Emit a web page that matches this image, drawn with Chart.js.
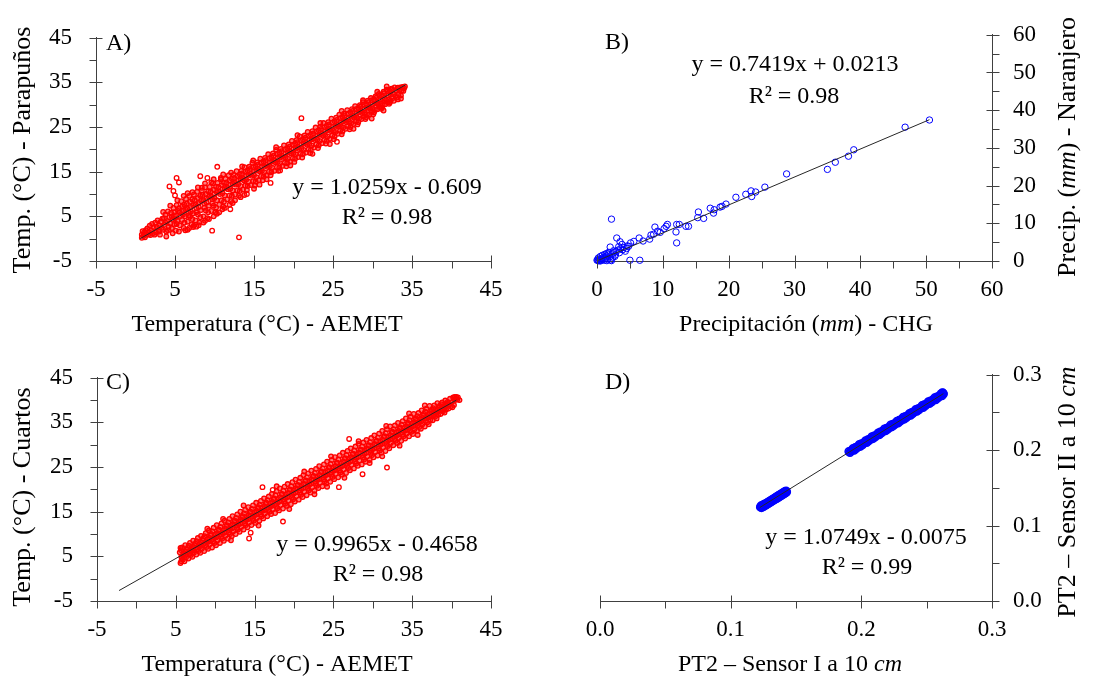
<!DOCTYPE html>
<html>
<head>
<meta charset="utf-8">
<script src="https://cdn.jsdelivr.net/npm/chart.js@4.4.1/dist/chart.umd.min.js"></script>
<style>
  html, body { margin: 0; padding: 0; background: #fff; }
  #wrap { position: relative; width: 1120px; height: 680px; }
  #wrap canvas { position: absolute; }
</style>
</head>
<body>
<div id="wrap">
  <canvas id="panelA" width="560" height="340" style="left:0;top:0"></canvas>
  <canvas id="panelB" width="560" height="340" style="left:560px;top:0"></canvas>
  <canvas id="panelC" width="560" height="340" style="left:0;top:340px"></canvas>
  <canvas id="panelD" width="560" height="340" style="left:560px;top:340px"></canvas>
</div>
<script>
// ---- Tick values -------------------------------------------------------
const tempTicks = [-5, 5, 15, 25, 35, 45];
const tempMinorTicks = [0, 10, 20, 30, 40];
const precipTicks = [0, 10, 20, 30, 40, 50, 60];
const precipMinorTicks = [5, 15, 25, 35, 45, 55];
const sensorTicks = [0, 0.1, 0.2, 0.3];
const sensorMinorTicks = [0.05, 0.15, 0.25];

// ---- Linear fits (slope, intercept, R², x extent) ------------------------
const fitSlopes = [1.0259, 0.7419, 0.9965, 1.0749];
const fitIntercepts = [-0.609, 0.0213, -0.4658, -0.0075];
const fitR2 = [0.98, 0.98, 0.98, 0.99];
const fitRanges = [[0.6, 34.2], [0, 50.5], [-2.2, 40.6], [0.1224, 0.2628]];

// ---- A) hourly temperature, AEMET (x) vs Parapuños (y) -----------------
const tempParapunos = [
  [0.8,0.2],[0.8,0.9],[0.9,1.7],[1.0,0.6],[1.1,1.4],[1.2,0.3],[1.3,1.9],[1.4,1.0],
  [1.5,2.3],[1.6,0.9],[1.7,1.5],[1.8,2.9],[1.9,0.8],[2.0,1.9],[2.1,3.3],[2.2,1.2],[2.3,2.5],[2.4,0.9],
  [2.5,3.6],[2.6,1.4],[2.7,2.6],[2.8,4.1],[2.9,1.9],[3.0,3.0],[3.1,0.9],[3.2,3.8],[3.3,2.4],[3.4,4.5],[3.0,1.6],
  [3.5,2.0],[3.6,4.6],[3.7,3.1],[3.8,5.4],[3.9,1.6],[4.0,3.9],[4.1,6.1],[4.2,2.7],[4.3,4.8],[4.4,3.4],[3.8,3.6],[4.1,1.9],
  [4.5,5.8],[4.6,2.4],[4.7,4.3],[4.8,6.9],[4.9,3.1],[5.0,5.2],[5.1,1.8],[5.2,7.5],[5.3,4.0],[5.4,6.2],[4.6,4.9],[4.9,5.9],[5.2,3.3],[5.0,4.6],
  [5.5,6.8],[5.6,3.0],[5.7,5.1],[5.8,8.4],[5.9,4.2],[6.0,6.3],[6.1,2.4],[6.2,7.6],[6.3,5.0],[6.4,8.9],[5.6,5.9],[5.9,7.2],[6.2,3.6],[6.0,5.4],[6.3,6.6],
  [6.5,7.9],[6.6,3.8],[6.7,6.0],[6.8,9.6],[6.9,4.9],[7.0,7.1],[7.1,3.2],[7.2,8.8],[7.3,5.7],[7.4,9.9],[6.6,6.7],[6.9,8.3],[7.2,4.4],[7.0,6.1],[7.3,7.5],[6.7,5.2],
  [7.5,8.6],[7.6,4.1],[7.7,6.9],[7.8,10.5],[7.9,5.4],[8.0,8.0],[8.1,3.6],[8.2,9.6],[8.3,6.4],[8.4,10.8],[7.6,7.7],[7.9,9.1],[8.2,4.8],[8.0,7.1],[8.3,8.5],[7.7,5.9],
  [8.5,9.8],[8.6,5.0],[8.7,7.9],[8.8,11.5],[8.9,6.3],[9.0,9.0],[9.1,4.6],[9.2,10.6],[9.3,7.4],[9.4,11.6],[8.6,8.6],[8.9,10.0],[9.2,5.9],[9.0,8.1],[9.3,9.4],[8.7,6.9],
  [9.5,10.6],[9.6,6.2],[9.7,8.9],[9.8,12.4],[9.9,7.4],[10.0,10.0],[10.1,5.9],[10.2,11.6],[10.3,8.6],[10.4,12.5],[9.6,9.4],[9.9,11.0],[10.2,7.0],[10.0,9.1],[10.3,10.4],[9.7,7.9],
  [10.5,11.6],[10.6,7.6],[10.7,10.0],[10.8,13.3],[10.9,8.6],[11.0,11.1],[11.1,7.2],[11.2,12.5],[11.3,9.7],[11.4,13.4],[10.6,10.5],[10.9,12.0],[11.2,8.3],[11.0,10.2],[11.3,11.3],
  [11.5,12.6],[11.6,8.8],[11.7,11.1],[11.8,14.2],[11.9,9.7],[12.0,12.1],[12.1,8.4],[12.2,13.4],[12.3,10.8],[12.4,14.3],[11.6,11.5],[11.9,13.0],[12.2,9.6],[12.0,11.2],[12.3,12.3],
  [12.5,13.6],[12.6,9.9],[12.7,12.1],[12.8,15.1],[12.9,10.8],[13.0,13.1],[13.1,9.6],[13.2,14.4],[13.3,11.8],[13.4,15.2],[12.6,12.5],[12.9,14.0],[13.2,10.7],[13.0,12.2],[13.3,13.3],
  [13.5,14.6],[13.6,11.0],[13.7,13.1],[13.8,16.0],[13.9,11.9],[14.0,14.1],[14.1,10.9],[14.2,15.3],[14.3,12.8],[14.4,16.1],[13.6,13.5],[13.9,15.0],[14.2,11.8],[14.0,13.2],[14.3,14.3],
  [14.5,15.6],[14.6,12.0],[14.7,14.1],[14.8,17.0],[14.9,12.9],[15.0,15.1],[15.1,11.9],[15.2,16.3],[15.3,13.8],[15.4,17.1],[14.6,14.5],[14.9,16.0],[15.2,12.8],[15.0,14.2],[15.3,15.3],
  [15.5,16.6],[15.6,13.1],[15.7,15.1],[15.8,17.9],[15.9,14.0],[16.0,16.1],[16.1,13.1],[16.2,17.3],[16.3,14.9],[16.4,18.1],[15.6,15.5],[15.9,17.0],[16.2,13.9],[16.0,15.2],[16.3,16.3],
  [16.5,17.6],[16.6,14.2],[16.7,16.1],[16.8,18.9],[16.9,15.0],[17.0,17.1],[17.1,14.2],[17.2,18.3],[17.3,15.9],[17.4,19.1],[16.6,16.5],[16.9,18.0],[17.2,14.9],[17.0,16.2],[17.3,17.3],
  [17.5,18.6],[17.6,15.2],[17.7,17.1],[17.8,19.9],[17.9,16.0],[18.0,18.1],[18.1,15.2],[18.2,19.3],[18.3,16.9],[18.4,20.1],[17.6,17.5],[17.9,19.0],[18.2,15.9],[18.0,17.2],[18.3,18.3],
  [18.5,19.6],[18.6,16.3],[18.7,18.1],[18.8,20.9],[18.9,17.0],[19.0,19.1],[19.1,16.2],[19.2,20.3],[19.3,17.9],[19.4,21.1],[18.6,18.5],[18.9,20.0],[19.2,16.9],[19.0,18.2],[19.3,19.3],
  [19.5,20.6],[19.6,17.3],[19.7,19.1],[19.8,21.9],[19.9,18.0],[20.0,20.1],[20.1,17.2],[20.2,21.3],[20.3,18.9],[20.4,22.1],[19.6,19.5],[19.9,21.0],[20.2,17.9],[20.0,19.2],[20.3,20.3],
  [20.5,21.6],[20.6,18.3],[20.7,20.1],[20.8,22.9],[20.9,19.0],[21.0,21.1],[21.1,18.2],[21.2,22.3],[21.3,19.9],[21.4,23.1],[20.6,20.5],[20.9,22.0],[21.2,18.9],[21.0,20.2],[21.3,21.3],
  [21.5,22.6],[21.6,19.3],[21.7,21.1],[21.8,23.9],[21.9,20.0],[22.0,22.1],[22.1,19.2],[22.2,23.3],[22.3,20.9],[22.4,24.1],[21.6,21.5],[21.9,23.0],[22.2,19.9],[22.0,21.2],[22.3,22.3],
  [22.5,23.6],[22.6,20.4],[22.7,22.1],[22.8,24.9],[22.9,21.1],[23.0,23.1],[23.1,20.3],[23.2,24.3],[23.3,21.9],[23.4,25.1],[22.6,22.5],[22.9,24.0],[23.2,20.9],[23.0,22.2],[23.3,23.3],
  [23.5,24.6],[23.6,21.4],[23.7,23.1],[23.8,25.9],[23.9,22.1],[24.0,24.1],[24.1,21.3],[24.2,25.3],[24.3,22.9],[24.4,26.1],[23.6,23.5],[23.9,25.0],[24.2,21.9],[24.0,23.2],[24.3,24.3],
  [24.5,25.6],[24.6,22.4],[24.7,24.1],[24.8,26.9],[24.9,23.1],[25.0,25.1],[25.1,22.3],[25.2,26.3],[25.3,23.9],[25.4,27.1],[24.6,24.5],[24.9,26.0],[25.2,22.9],[25.0,24.2],[25.3,25.3],
  [25.5,26.6],[25.6,23.5],[25.7,25.1],[25.8,27.8],[25.9,24.2],[26.0,26.1],[26.1,23.4],[26.2,27.3],[26.3,24.9],[26.4,28.0],[25.6,25.5],[25.9,27.0],[26.2,24.0],[26.0,25.2],[26.3,26.3],
  [26.5,27.6],[26.6,24.6],[26.7,26.1],[26.8,28.8],[26.9,25.2],[27.0,27.1],[27.1,24.5],[27.2,28.3],[27.3,25.9],[27.4,29.0],[26.6,26.5],[26.9,28.0],[27.2,25.0],[27.0,26.2],[27.3,27.3],
  [27.5,28.6],[27.6,25.7],[27.7,27.1],[27.8,29.7],[27.9,26.3],[28.0,28.1],[28.1,25.6],[28.2,29.3],[28.3,26.9],[28.4,29.9],[27.6,27.5],[27.9,29.0],[28.2,26.1],[28.0,27.2],[28.3,28.3],
  [28.5,29.6],[28.6,26.8],[28.7,28.1],[28.8,30.6],[28.9,27.4],[29.0,29.1],[29.1,26.8],[29.2,30.2],[29.3,27.9],[29.4,30.9],[28.6,28.5],[28.9,30.0],[29.2,27.2],[29.0,28.2],[29.3,29.3],
  [29.5,30.6],[29.6,27.9],[29.7,29.1],[29.8,31.5],[29.9,28.4],[30.0,30.1],[30.1,27.9],[30.2,31.2],[30.3,28.9],[30.4,31.9],[29.6,29.5],[29.9,31.0],[30.2,28.3],[30.0,29.2],[30.3,30.3],
  [30.5,31.6],[30.6,29.0],[30.7,30.1],[30.8,32.4],[30.9,29.5],[31.0,31.1],[31.1,29.1],[31.2,32.1],[31.3,29.9],[31.4,32.9],[30.6,30.5],[30.9,32.0],[31.2,29.4],[31.0,30.2],[31.3,31.3],
  [31.5,32.6],[31.6,30.1],[31.7,31.1],[31.8,33.4],[31.9,30.6],[32.0,32.1],[32.1,30.2],[32.2,33.1],[32.3,30.9],[32.4,33.6],[31.8,34.1],[31.9,33.0],[32.2,30.5],[32.0,31.2],[32.3,32.3],
  [32.5,33.5],[32.6,31.5],[32.7,32.4],[32.8,33.9],[32.9,31.9],[33.0,33.1],[33.1,31.6],[33.2,33.8],[33.3,32.4],[33.4,33.2],[32.7,30.9],[33.2,31.2],
  [33.5,33.9],[33.6,32.1],[33.7,33.2],[33.8,34.0],[33.9,33.1],[34.0,33.7],[34.1,34.1],[33.6,31.4],
  // fringe of the band
  [6.3,1.9],[6.8,2.4],[7.4,2.9],[8.0,3.0],[8.6,3.6],[9.3,4.4],[9.9,5.0],[10.6,5.9],[11.3,6.9],[11.9,7.6],
  [12.6,8.6],[13.3,9.3],[7.2,10.4],[8.4,11.4],[9.6,12.6],[10.8,13.6],[12.1,14.8],[13.5,16.2],[14.9,17.5],
  [17.8,20.5],[15.7,12.1],[16.6,13.3],[19.6,16.4],[22.4,19.0],[24.6,21.2],[27.6,24.6],[29.9,26.9],[31.4,28.7],
  [20.5,23.2],[23.4,25.9],[26.1,28.6],[28.8,31.0],[30.6,32.9],
  [3.5,6.0],[4.4,7.4],[5.3,8.6],[6.1,9.6],[6.6,10.2],[7.9,11.5],[8.8,12.4],[9.9,13.3],[11.1,14.4],
  [3.9,0.5],[4.7,1.2],[5.5,1.6],[6.6,2.0],[7.3,2.6],[8.8,4.0],[10.3,5.6],[11.0,6.6],[12.3,8.0],[13.8,9.8],[15.0,11.2]
];
// readings well away from the main band
const tempParapunosOutliers = [
  [4.3,11.7],[4.8,10.7],[5.0,9.7],[5.2,13.6],[5.5,12.6],[7.7,2.7],[8.2,14.0],[9.1,13.6],[9.7,1.8],
  [10.35,16.1],[12.0,6.6],[13.1,0.3],[14.1,10.0],[17.1,12.5],[18.3,15.3],[21.0,27.0],[25.5,21.7]
];

// ---- B) daily precipitation, CHG (x) vs Naranjero (y) ------------------
const precipNaranjero = [
  [50.5,37.4],[46.8,35.5],[39.0,29.5],[38.2,27.8],[36.2,26.2],[35.0,24.3],[28.8,23.1],[25.5,19.6],
  [24.1,18.3],[23.4,18.6],[23.5,17.1],[22.6,17.7],[21.1,16.9],[19.6,15.1],[19.0,14.5],[18.7,14.3],
  [17.7,12.7],[17.8,13.6],[17.2,14.0],[16.2,11.3],[15.4,13.0],[15.3,11.5],[13.9,9.2],[13.5,9.2],
  [12.5,9.7],[12.0,7.7],[12.1,9.7],[12.1,4.8],[10.7,9.7],[10.5,9.2],[10.2,8.6],[9.6,7.6],[9.2,7.9],
  [8.8,9.0],[8.6,7.1],[8.2,6.9],[8.0,5.8],[7.0,5.3],[6.4,6.1],[5.6,5.2],[5.1,4.8],[4.6,4.0],
  [3.8,4.4],[3.5,5.1],[3.0,6.1],[2.0,3.7],[2.2,11.1],[2.5,2.7],[4.3,2.6],[5.0,0.2],[6.5,0.2],
  [0.1,0.3],[0.2,0.8],[0.3,0.1],[0.4,0.5],[0.5,1.2],[0.6,0.2],[0.7,0.7],[0.8,1.5],[0.9,0.4],
  [1.0,1.0],[1.1,0.2],[1.2,1.8],[1.3,0.8],[1.4,1.3],[1.5,2.0],[1.6,0.5],[1.7,1.6],[1.8,2.3],
  [1.9,1.1],[2.1,0.3],[2.3,1.9],[2.4,1.0],[2.6,2.2],[2.8,1.6],[2.9,2.6],[3.2,2.9],[3.4,2.2],
  [3.6,3.3],[3.9,3.0],[4.1,3.6],[4.5,3.3],[4.8,3.9],[0.2,0.1],[0.5,0.0],[0.0,0.2],[1.5,0.1],
  [2.2,0.1],[3.3,3.8],[2.7,1.2]
];

// ---- C) hourly temperature, AEMET (x) vs Cuartos (y) -------------------
const tempCuartos = [
  [5.5,5.9],[5.6,3.5],[5.7,5.0],[5.8,7.0],[5.9,4.3],[6.0,5.7],[6.1,3.9],[6.2,7.5],[6.3,4.8],[6.4,6.5],[5.65,6.4],[5.95,5.3],[6.25,6.1],[5.75,4.6],[6.15,5.3],[5.6,6.9],[5.7,3.9],
  [6.5,6.9],[6.6,4.5],[6.7,6.0],[6.8,8.0],[6.9,5.3],[7.0,6.7],[7.1,4.9],[7.2,8.5],[7.3,5.8],[7.4,7.5],[6.65,7.4],[6.95,6.3],[7.25,7.1],[6.75,5.6],[7.15,6.3],
  [7.5,7.9],[7.6,5.4],[7.7,7.0],[7.8,9.1],[7.9,6.2],[8.0,7.8],[8.1,5.8],[8.2,9.6],[8.3,6.7],[8.4,8.6],[7.65,8.4],[7.95,7.2],[8.25,8.1],[7.75,6.6],[8.15,7.3],
  [8.5,9.0],[8.6,6.2],[8.7,8.0],[8.8,10.2],[8.9,7.1],[9.0,8.8],[9.1,6.7],[9.2,10.8],[9.3,7.7],[9.4,9.7],[8.65,9.5],[8.95,8.2],[9.25,9.1],[8.75,7.5],[9.15,8.3],
  [9.5,10.0],[9.6,7.0],[9.7,8.9],[9.8,11.4],[9.9,8.0],[10.0,9.8],[10.1,7.5],[10.2,12.0],[10.3,8.6],[10.4,10.8],[9.65,10.6],[9.95,9.2],[10.25,10.2],[9.75,8.4],[10.15,9.3],
  [10.5,11.0],[10.6,8.0],[10.7,9.9],[10.8,12.4],[10.9,9.0],[11.0,10.8],[11.1,8.5],[11.2,13.0],[11.3,9.6],[11.4,11.8],[10.65,11.6],[10.95,10.2],[11.25,11.2],[10.75,9.4],[11.15,10.3],
  [11.5,12.0],[11.6,9.0],[11.7,10.9],[11.8,13.4],[11.9,10.0],[12.0,11.8],[12.1,9.5],[12.2,14.0],[12.3,10.6],[12.4,12.8],[11.65,12.6],[11.95,11.2],[12.25,12.2],[11.75,10.4],[12.15,11.3],
  [12.5,13.0],[12.6,10.0],[12.7,11.9],[12.8,14.4],[12.9,11.0],[13.0,12.8],[13.1,10.5],[13.2,15.0],[13.3,11.6],[13.4,13.8],[12.65,13.6],[12.95,12.2],[13.25,13.2],[12.75,11.4],[13.15,12.3],
  [13.5,14.0],[13.6,11.0],[13.7,12.9],[13.8,15.4],[13.9,12.0],[14.0,13.8],[14.1,11.5],[14.2,16.0],[14.3,12.6],[14.4,14.8],[13.65,14.6],[13.95,13.2],[14.25,14.2],[13.75,12.4],[14.15,13.3],
  [14.5,15.0],[14.6,12.0],[14.7,13.9],[14.8,16.4],[14.9,13.0],[15.0,14.8],[15.1,12.5],[15.2,17.0],[15.3,13.6],[15.4,15.8],[14.65,15.6],[14.95,14.2],[15.25,15.2],[14.75,13.4],[15.15,14.3],
  [15.5,16.0],[15.6,13.0],[15.7,14.9],[15.8,17.4],[15.9,14.0],[16.0,15.8],[16.1,13.5],[16.2,18.0],[16.3,14.6],[16.4,16.8],[15.65,16.6],[15.95,15.2],[16.25,16.2],[15.75,14.4],[16.15,15.3],
  [16.5,17.0],[16.6,14.0],[16.7,15.9],[16.8,18.4],[16.9,15.0],[17.0,16.8],[17.1,14.5],[17.2,19.0],[17.3,15.6],[17.4,17.8],[16.65,17.6],[16.95,16.2],[17.25,17.2],[16.75,15.4],[17.15,16.3],
  [17.5,18.0],[17.6,14.7],[17.7,16.8],[17.8,19.6],[17.9,15.8],[18.0,17.8],[18.1,15.3],[18.2,20.2],[18.3,16.5],[18.4,18.9],[17.65,18.7],[17.95,17.1],[18.25,18.2],[17.75,16.3],[18.15,17.3],
  [18.5,19.0],[18.6,15.7],[18.7,17.8],[18.8,20.6],[18.9,16.8],[19.0,18.8],[19.1,16.3],[19.2,21.2],[19.3,17.5],[19.4,19.9],[18.65,19.7],[18.95,18.1],[19.25,19.2],[18.75,17.3],[19.15,18.3],
  [19.5,20.0],[19.6,16.7],[19.7,18.8],[19.8,21.6],[19.9,17.8],[20.0,19.8],[20.1,17.3],[20.2,22.2],[20.3,18.5],[20.4,20.9],[19.65,20.7],[19.95,19.1],[20.25,20.2],[19.75,18.3],[20.15,19.3],
  [20.5,21.0],[20.6,17.7],[20.7,19.8],[20.8,22.6],[20.9,18.8],[21.0,20.8],[21.1,18.3],[21.2,23.2],[21.3,19.5],[21.4,21.9],[20.65,21.7],[20.95,20.1],[21.25,21.2],[20.75,19.3],[21.15,20.3],
  [21.5,22.0],[21.6,18.7],[21.7,20.8],[21.8,23.6],[21.9,19.8],[22.0,21.8],[22.1,19.3],[22.2,24.2],[22.3,20.5],[22.4,22.9],[21.65,22.7],[21.95,21.1],[22.25,22.2],[21.75,20.3],[22.15,21.3],
  [22.5,23.0],[22.6,19.7],[22.7,21.8],[22.8,24.6],[22.9,20.8],[23.0,22.8],[23.1,20.3],[23.2,25.2],[23.3,21.5],[23.4,23.9],[22.65,23.7],[22.95,22.1],[23.25,23.2],[22.75,21.3],[23.15,22.3],
  [23.5,24.0],[23.6,20.7],[23.7,22.8],[23.8,25.6],[23.9,21.8],[24.0,23.8],[24.1,21.3],[24.2,26.2],[24.3,22.5],[24.4,24.9],[23.65,24.7],[23.95,23.1],[24.25,24.2],[23.75,22.3],[24.15,23.3],
  [24.5,25.0],[24.6,21.7],[24.7,23.8],[24.8,26.6],[24.9,22.8],[25.0,24.8],[25.1,22.3],[25.2,27.2],[25.3,23.5],[25.4,25.9],[24.65,25.7],[24.95,24.1],[25.25,25.2],[24.75,23.3],[25.15,24.3],
  [25.5,26.0],[25.6,22.7],[25.7,24.8],[25.8,27.6],[25.9,23.8],[26.0,25.8],[26.1,23.3],[26.2,28.2],[26.3,24.5],[26.4,26.9],[25.65,26.7],[25.95,25.1],[26.25,26.2],[25.75,24.3],[26.15,25.3],
  [26.5,27.0],[26.6,23.7],[26.7,25.8],[26.8,28.6],[26.9,24.8],[27.0,26.8],[27.1,24.3],[27.2,29.2],[27.3,25.5],[27.4,27.9],[26.65,27.7],[26.95,26.1],[27.25,27.2],[26.75,25.3],[27.15,26.3],
  [27.5,28.0],[27.6,24.7],[27.7,26.8],[27.8,29.6],[27.9,25.8],[28.0,27.8],[28.1,25.3],[28.2,30.2],[28.3,26.5],[28.4,28.9],[27.65,28.7],[27.95,27.1],[28.25,28.2],[27.75,26.3],[28.15,27.3],
  [28.5,28.9],[28.6,25.6],[28.7,27.7],[28.8,30.5],[28.9,26.7],[29.0,28.7],[29.1,26.2],[29.2,31.1],[29.3,27.4],[29.4,29.8],[28.65,29.6],[28.95,28.0],[29.25,29.1],[28.75,27.2],[29.15,28.2],
  [29.5,29.9],[29.6,26.6],[29.7,28.7],[29.8,31.5],[29.9,27.7],[30.0,29.7],[30.1,27.2],[30.2,32.1],[30.3,28.4],[30.4,30.8],[29.65,30.6],[29.95,29.0],[30.25,30.1],[29.75,28.2],[30.15,29.2],
  [30.5,30.9],[30.6,27.6],[30.7,29.7],[30.8,32.5],[30.9,28.7],[31.0,30.7],[31.1,28.2],[31.2,33.1],[31.3,29.4],[31.4,31.8],[30.65,31.6],[30.95,30.0],[31.25,31.1],[30.75,29.2],[31.15,30.2],
  [31.5,31.9],[31.6,28.6],[31.7,30.7],[31.8,33.5],[31.9,29.7],[32.0,31.7],[32.1,29.2],[32.2,34.1],[32.3,30.4],[32.4,32.8],[31.65,32.6],[31.95,31.0],[32.25,32.1],[31.75,30.2],[32.15,31.2],
  [32.5,32.9],[32.6,29.9],[32.7,31.8],[32.8,34.3],[32.9,30.9],[33.0,32.7],[33.1,30.4],[33.2,34.9],[33.3,31.5],[33.4,33.7],[32.65,33.5],[32.95,32.1],[33.25,33.1],[32.75,31.3],[33.15,32.2],
  [33.5,33.9],[33.6,30.9],[33.7,32.8],[33.8,35.3],[33.9,31.9],[34.0,33.7],[34.1,31.4],[34.2,35.9],[34.3,32.5],[34.4,34.7],[33.65,34.5],[33.95,33.1],[34.25,34.1],[33.75,32.3],[34.15,33.2],
  [34.5,34.9],[34.6,31.9],[34.7,33.8],[34.8,36.3],[34.9,32.9],[35.0,34.7],[35.1,32.4],[35.2,36.9],[35.3,33.5],[35.4,35.7],[34.65,35.5],[34.95,34.1],[35.25,35.1],[34.75,33.3],[35.15,34.2],
  [35.5,35.9],[35.6,33.1],[35.7,34.9],[35.8,37.1],[35.9,34.0],[36.0,35.7],[36.1,33.6],[36.2,37.7],[36.3,34.6],[36.4,36.6],[35.65,36.4],[35.95,35.1],[36.25,36.0],[35.75,34.4],[36.15,35.2],
  [36.5,36.9],[36.6,34.1],[36.7,35.9],[36.8,38.1],[36.9,35.0],[37.0,36.7],[37.1,34.6],[37.2,38.7],[37.3,35.6],[37.4,37.6],[36.65,37.4],[36.95,36.1],[37.25,37.0],[36.75,35.4],[37.15,36.2],
  [37.5,37.8],[37.6,35.5],[37.7,36.9],[37.8,38.8],[37.9,36.3],[38.0,37.6],[38.1,35.9],[38.2,39.3],[38.3,36.7],[38.4,38.4],[37.65,38.2],[37.95,37.2],[38.25,37.9],[37.75,36.6],[38.15,37.2],
  [38.5,38.7],[38.6,36.9],[38.7,38.0],[38.8,39.5],[38.9,37.5],[39.0,38.6],[39.1,37.2],[39.2,39.9],[39.3,37.9],[39.4,39.2],[38.65,39.1],[38.95,38.2],[39.25,38.8],[38.75,37.7],[39.15,38.3],
  [39.5,39.6],[39.6,38.1],[39.7,39.1],[39.8,40.3],[39.9,38.6],[40.0,39.5],[40.1,38.4],[40.2,40.6],[40.3,38.9],[40.4,40.0],
  [40.5,40.3],[40.6,40.7],[40.7,40.1],[40.8,40.6],[40.4,40.7],[41.0,40.0],
  // fringe of the band
  [12.0,8.6],[15.5,11.9],[19.4,15.6],[22.6,18.9],[26.4,22.6],[29.6,25.9],[33.4,29.8],[35.7,32.2],[24.2,20.6],[31.2,27.4],
  [13.6,16.4],[17.8,20.7],[21.3,24.0],[24.7,27.4],[28.2,30.8],[31.7,34.2],[34.6,37.0],[36.6,38.8],[11.0,13.4],[9.0,11.2]
];
// readings well away from the main band
const tempCuartosOutliers = [
  [14.3,9.0],[14.5,10.3],[18.6,12.8],[17.3,19.9],[16.0,20.5],[27.0,31.3],[31.8,24.9],[28.7,23.4],[25.7,20.5]
];

// ---- D) PT2 soil moisture at 10 cm, sensor I (x) vs sensor II (y) ------
const sensorPT2 = [
  [0.1228,0.1245],[0.1232,0.1262],[0.1236,0.1238],[0.1241,0.1259],[0.1245,0.1270],[0.1249,0.1251],
  [0.1254,0.1281],[0.1258,0.1262],[0.1263,0.1284],[0.1267,0.1270],[0.1271,0.1295],[0.1276,0.1281],
  [0.1280,0.1303],[0.1285,0.1290],[0.1289,0.1312],[0.1294,0.1300],[0.1298,0.1322],[0.1303,0.1309],
  [0.1307,0.1333],[0.1312,0.1320],[0.1316,0.1342],[0.1321,0.1328],[0.1325,0.1352],[0.1330,0.1339],
  [0.1334,0.1361],[0.1339,0.1348],[0.1343,0.1372],[0.1348,0.1357],[0.1352,0.1383],[0.1357,0.1366],
  [0.1361,0.1392],[0.1366,0.1377],[0.1370,0.1402],[0.1375,0.1386],[0.1379,0.1412],[0.1384,0.1396],
  [0.1388,0.1421],[0.1393,0.1405],[0.1397,0.1431],[0.1402,0.1415],[0.1406,0.1441],[0.1411,0.1425],
  [0.1415,0.1450],[0.1420,0.1434],[0.1424,0.1458],[0.1428,0.1445],
  [0.1905,0.1983],[0.1913,0.1969],[0.1921,0.1993],[0.1929,0.1994],[0.1937,0.2023],[0.1945,0.2000],
  [0.1953,0.2034],[0.1961,0.2021],[0.1969,0.2045],[0.1977,0.2045],[0.1985,0.2075],[0.1993,0.2051],
  [0.2001,0.2086],[0.2009,0.2072],[0.2017,0.2096],[0.2025,0.2097],[0.2033,0.2126],[0.2041,0.2103],
  [0.2049,0.2137],[0.2057,0.2124],[0.2065,0.2148],[0.2073,0.2148],[0.2081,0.2178],[0.2089,0.2154],
  [0.2097,0.2189],[0.2105,0.2176],[0.2113,0.2199],[0.2121,0.2200],[0.2129,0.2229],[0.2137,0.2206],
  [0.2145,0.2241],[0.2153,0.2227],[0.2161,0.2251],[0.2169,0.2251],[0.2177,0.2281],[0.2185,0.2258],
  [0.2193,0.2292],[0.2201,0.2279],[0.2209,0.2302],[0.2217,0.2303],[0.2225,0.2333],[0.2233,0.2309],
  [0.2241,0.2344],[0.2249,0.2330],[0.2257,0.2354],[0.2265,0.2355],[0.2273,0.2384],[0.2281,0.2361],
  [0.2289,0.2395],[0.2297,0.2382],[0.2305,0.2406],[0.2313,0.2406],[0.2321,0.2436],[0.2329,0.2412],
  [0.2337,0.2447],[0.2345,0.2434],[0.2353,0.2457],[0.2361,0.2458],[0.2369,0.2487],[0.2377,0.2464],
  [0.2385,0.2499],[0.2393,0.2485],[0.2401,0.2509],[0.2409,0.2509],[0.2417,0.2539],[0.2425,0.2516],
  [0.2433,0.2550],[0.2441,0.2537],[0.2449,0.2560],[0.2457,0.2561],[0.2465,0.2591],[0.2473,0.2567],
  [0.2481,0.2602],[0.2489,0.2588],[0.2497,0.2612],[0.2505,0.2613],[0.2513,0.2642],[0.2521,0.2619],
  [0.2529,0.2653],[0.2537,0.2640],[0.2545,0.2664],[0.2553,0.2664],[0.2561,0.2694],[0.2569,0.2670],
  [0.2577,0.2705],[0.2585,0.2692],[0.2593,0.2715],[0.2601,0.2716],[0.2609,0.2745],[0.2617,0.2722],
  [0.2625,0.2757],[0.2628,0.2745],[0.2620,0.2762]
];

// ---- Drawing ------------------------------------------------------------
const FONT = '"Liberation Serif", "Times New Roman", Times, serif';
const AXIS_COLOR = '#404040';
Chart.defaults.font.family = FONT;

const intFmt = v => String(Math.round(v));
const dec1Fmt = v => v.toFixed(1);

// Text made of plain / italic runs, centred on (x, y); optionally rotated.
function richText(ctx, parts, x, y, size, rotated) {
  ctx.save();
  ctx.translate(x, y);
  if (rotated) ctx.rotate(-Math.PI / 2);
  ctx.textBaseline = 'middle';
  ctx.textAlign = 'left';
  ctx.fillStyle = '#000';
  const fonts = parts.map(p => (p[1] ? 'italic ' : '') + size + 'px ' + FONT);
  const widths = parts.map((p, i) => { ctx.font = fonts[i]; return ctx.measureText(p[0]).width; });
  let cx = -widths.reduce((s, w) => s + w, 0) / 2;
  parts.forEach((p, i) => { ctx.font = fonts[i]; ctx.fillText(p[0], cx, 0); cx += widths[i]; });
  ctx.restore();
}

function equationText(k) {
  const b = fitIntercepts[k];
  return 'y = ' + fitSlopes[k].toFixed(4) + 'x ' + (b < 0 ? '- ' : '+ ') + String(Math.abs(b));
}

// Axis with fixed box size so the plot area lands where wanted.
function axisOptions(min, max, ticks, fmt, position, pad, boxSize) {
  return {
    type: 'linear', position, min, max,
    afterBuildTicks: s => { s.ticks = ticks.map(v => ({ value: v })); },
    afterFit: s => { if (s.isHorizontal()) s.height = boxSize; else s.width = boxSize; },
    grid: { display: false, drawTicks: false },
    border: { display: true, color: AXIS_COLOR, width: 1 },
    ticks: {
      color: '#000', font: { family: FONT, size: 23 }, padding: pad,
      autoSkip: false, maxRotation: 0, minRotation: 0, callback: v => fmt(v)
    }
  };
}

// Tick marks (major ones cross the axis), panel letter, fit equation and axis titles.
function panelDecor(p) {
  return {
    id: 'panelDecor',
    afterDraw(chart) {
      const ctx = chart.ctx, xs = chart.scales.x, ys = chart.scales.y, ca = chart.chartArea;
      ctx.save();
      ctx.strokeStyle = AXIS_COLOR;
      ctx.lineWidth = 1;
      const seg = (x1, y1, x2, y2) => { ctx.beginPath(); ctx.moveTo(x1, y1); ctx.lineTo(x2, y2); ctx.stroke(); };
      const yb = Math.round(ca.bottom) + 0.5;
      p.xMajor.forEach(v => { const px = Math.round(xs.getPixelForValue(v)) + 0.5; seg(px, yb - 6, px, yb + 7); });
      p.xMinor.forEach(v => { const px = Math.round(xs.getPixelForValue(v)) + 0.5; seg(px, yb, px, yb + 7); });
      const ax = Math.round(p.yPos === 'left' ? ca.left : ca.right) + 0.5;
      const dir = p.yPos === 'left' ? -1 : 1;
      p.yMajor.forEach(v => { const py = Math.round(ys.getPixelForValue(v)) + 0.5; seg(ax - 6 * dir, py, ax + 7 * dir, py); });
      p.yMinor.forEach(v => { const py = Math.round(ys.getPixelForValue(v)) + 0.5; seg(ax, py, ax + 7 * dir, py); });
      ctx.restore();

      ctx.save();
      ctx.fillStyle = '#000';
      ctx.font = '24px ' + FONT;
      ctx.textAlign = 'left';
      ctx.textBaseline = 'middle';
      ctx.fillText(p.letter, p.letterPos[0], p.letterPos[1]);
      ctx.restore();

      richText(ctx, [[equationText(p.k), false]], p.eqPos[0], p.eqPos[1], 24, false);
      richText(ctx, [['R² = ' + fitR2[p.k].toFixed(2), false]], p.r2Pos[0], p.r2Pos[1], 24, false);
      richText(ctx, p.xTitle, p.xTitlePos[0], p.xTitlePos[1], 24, false);
      richText(ctx, p.yTitle, p.yTitlePos[0], p.yTitlePos[1], 26, true);
    }
  };
}

function buildPanel(p) {
  const W = 560, H = 340, a = p.area, k = p.k;
  const x0 = fitRanges[k][0], x1 = fitRanges[k][1];
  const fitLine = [
    { x: x0, y: fitSlopes[k] * x0 + fitIntercepts[k] },
    { x: x1, y: fitSlopes[k] * x1 + fitIntercepts[k] }
  ];
  const left = p.yPos === 'left';
  const markers = (pts, fill) => ({
    data: pts.map(q => ({ x: q[0], y: q[1] })),
    pointRadius: p.radius, pointBorderWidth: p.border, pointBorderColor: p.color,
    pointBackgroundColor: fill, clip: false
  });
  const datasets = [
    { data: fitLine, showLine: true, borderColor: '#262626', borderWidth: 1, pointRadius: 0, clip: false },
    markers(p.points, p.fill)
  ];
  if (p.outliers) datasets.push(markers(p.outliers, 'rgba(0,0,0,0)'));
  new Chart(document.getElementById(p.id), {
    type: 'scatter',
    data: { datasets },
    options: {
      responsive: false, animation: false, devicePixelRatio: 1, events: [],
      layout: { padding: { left: left ? 0 : a.l, top: a.t, right: left ? W - a.r : 0, bottom: 0 } },
      plugins: { legend: { display: false }, tooltip: { enabled: false } },
      scales: {
        x: axisOptions(p.xMajor[0], p.xMajor[p.xMajor.length - 1], p.xMajor, p.fmt, 'bottom', 15, H - a.b),
        y: axisOptions(p.yMajor[0], p.yMajor[p.yMajor.length - 1], p.yMajor, p.fmt, p.yPos,
                       left ? 24 : 21, left ? a.l : W - a.r)
      }
    },
    plugins: [panelDecor(p)]
  });
}

buildPanel({
  id: 'panelA', k: 0, points: tempParapunos, outliers: tempParapunosOutliers,
  color: '#ff0000', fill: 'rgba(255,0,0,0.5)', radius: 2.3, border: 1.3,
  area: { l: 96, t: 22, r: 491, b: 261 }, yPos: 'left', fmt: intFmt,
  xMajor: tempTicks, xMinor: tempMinorTicks, yMajor: tempTicks, yMinor: tempMinorTicks,
  letter: 'A)', letterPos: [106, 44], eqPos: [387, 188], r2Pos: [387, 218],
  xTitle: [['Temperatura (°C) - AEMET', false]], xTitlePos: [267, 325],
  yTitle: [['Temp. (°C) - Parapuños', false]], yTitlePos: [23, 150]
});

buildPanel({
  id: 'panelB', k: 1, points: precipNaranjero, color: '#0000ff', fill: 'rgba(0,0,0,0)', radius: 3.2, border: 1,
  area: { l: 37, t: 21, r: 432, b: 261 }, yPos: 'right', fmt: intFmt,
  xMajor: precipTicks, xMinor: precipMinorTicks, yMajor: precipTicks, yMinor: precipMinorTicks,
  letter: 'B)', letterPos: [45, 43], eqPos: [235, 65], r2Pos: [234, 97],
  xTitle: [['Precipitación (', false], ['mm', true], [') - CHG', false]], xTitlePos: [246, 325],
  yTitle: [['Precip. (', false], ['mm', true], [') - Naranjero', false]], yTitlePos: [508, 147]
});

buildPanel({
  id: 'panelC', k: 2, points: tempCuartos, outliers: tempCuartosOutliers,
  color: '#ff0000', fill: 'rgba(255,0,0,0.5)', radius: 2.3, border: 1.3,
  area: { l: 97, t: 21, r: 491, b: 261 }, yPos: 'left', fmt: intFmt,
  xMajor: tempTicks, xMinor: tempMinorTicks, yMajor: tempTicks, yMinor: tempMinorTicks,
  letter: 'C)', letterPos: [106, 43], eqPos: [377, 205], r2Pos: [378, 235],
  xTitle: [['Temperatura (°C) - AEMET', false]], xTitlePos: [277, 325],
  yTitle: [['Temp. (°C) - Cuartos', false]], yTitlePos: [23, 157]
});

buildPanel({
  id: 'panelD', k: 3, points: sensorPT2, color: '#0000ff', fill: 'rgba(0,0,255,0.6)', radius: 3.8, border: 1.5,
  area: { l: 40, t: 21, r: 432, b: 261 }, yPos: 'right', fmt: dec1Fmt,
  xMajor: sensorTicks, xMinor: sensorMinorTicks, yMajor: sensorTicks, yMinor: sensorMinorTicks,
  letter: 'D)', letterPos: [45, 43], eqPos: [306, 198], r2Pos: [307, 228],
  xTitle: [['PT2 – Sensor I a 10 ', false], ['cm', true]], xTitlePos: [230, 325],
  yTitle: [['PT2 – Sensor II a 10 ', false], ['cm', true]], yTitlePos: [508, 152]
});
</script>
</body>
</html>
